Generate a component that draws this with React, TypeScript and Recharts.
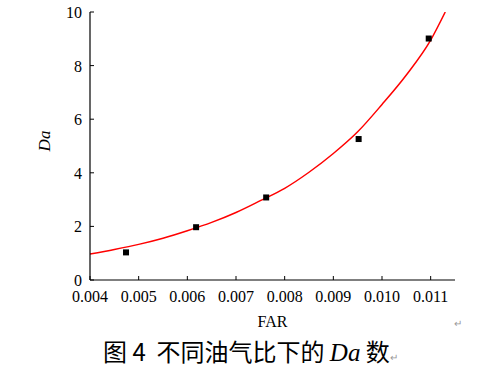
import { ComposedChart, Line, Scatter, XAxis, YAxis } from "recharts";

// measured points
const farPoints = [0.00474, 0.00618, 0.00762, 0.00952, 0.01096];
const daPoints = [1.03, 1.97, 3.08, 5.26, 9.01];

// fitted curve
const fitFar = [0.004, 0.0045, 0.005, 0.0055, 0.006, 0.0065, 0.007, 0.0075, 0.008, 0.0085, 0.009, 0.0095, 0.01, 0.0105, 0.011, 0.0113];
const fitDa = [0.97, 1.14, 1.33, 1.56, 1.84, 2.15, 2.52, 2.96, 3.42, 4.02, 4.72, 5.53, 6.55, 7.65, 8.95, 10.0];

const xTicks = [0.004, 0.005, 0.006, 0.007, 0.008, 0.009, 0.01, 0.011];
const yTicks = [0, 2, 4, 6, 8, 10];

const serif = "'Times New Roman', 'Liberation Serif', serif";

const XTick = (props: any) => {
  const { x, y, payload } = props;
  return (
    <text x={x} y={y + 22} textAnchor="middle" style={{ fontFamily: serif, fontSize: 16 }} fill="#000">
      {Number(payload.value).toFixed(3)}
    </text>
  );
};

const YTick = (props: any) => {
  const { x, y, payload } = props;
  return (
    <text x={x - 8} y={y + 6} textAnchor="end" style={{ fontFamily: serif, fontSize: 16 }} fill="#000">
      {payload.value}
    </text>
  );
};

const SquareDot = (props: any) => {
  const { cx, cy } = props;
  return <rect x={cx - 3} y={cy - 3} width={6} height={6} fill="#000" />;
};

export default function App() {
  const pts = farPoints.map((far, i) => ({ far, da: daPoints[i] }));
  const fit = fitFar.map((far, i) => ({ far, da: fitDa[i] }));

  return (
    <div style={{ position: "absolute", left: 0, top: 0, width: 492, height: 379, background: "#fff", fontFamily: serif }}>
      <ComposedChart
        width={492}
        height={379}
        margin={{ top: 12, right: 37, bottom: 69, left: 30 }}
      >
        <XAxis
          xAxisId="b"
          dataKey="far"
          type="number"
          domain={[0.004, 0.0115]}
          ticks={xTicks}
          tick={<XTick />}
          tickSize={-4}
          tickMargin={4}
          axisLine={{ stroke: "#000", strokeWidth: 1.2 }}
          tickLine={{ stroke: "#000" }}
          height={30}
          allowDataOverflow
        />
        <XAxis
          xAxisId="t"
          orientation="top"
          type="number"
          domain={[0.004, 0.0115]}
          tick={false}
          tickLine={false}
          axisLine={{ stroke: "#000", strokeWidth: 1.2 }}
          height={0}
        />
        <YAxis
          yAxisId="l"
          type="number"
          domain={[0, 10]}
          ticks={yTicks}
          tick={<YTick />}
          tickSize={-4}
          tickMargin={4}
          axisLine={{ stroke: "#000", strokeWidth: 1.2 }}
          tickLine={{ stroke: "#000" }}
          width={60}
          allowDataOverflow
        />
        <YAxis
          yAxisId="r"
          orientation="right"
          type="number"
          domain={[0, 10]}
          tick={false}
          tickLine={false}
          axisLine={{ stroke: "#000", strokeWidth: 1.2 }}
          width={0}
        />
        <Line
          xAxisId="b"
          yAxisId="l"
          data={fit}
          dataKey="da"
          type="monotone"
          stroke="#ff0000"
          strokeWidth={1.5}
          dot={false}
          activeDot={false}
          isAnimationActive={false}
        />
        <Scatter
          xAxisId="b"
          yAxisId="l"
          data={pts}
          dataKey="da"
          shape={SquareDot}
          isAnimationActive={false}
        />
      </ComposedChart>
      <div
        style={{
          position: "absolute",
          left: 45,
          top: 141,
          transform: "translate(-50%, -50%) rotate(-90deg)",
          fontStyle: "italic",
          fontSize: 17,
        }}
      >
        Da
      </div>
      <div style={{ position: "absolute", left: 0, width: 545, top: 313, textAlign: "center", fontSize: 16 }}>
        FAR
      </div>
      <div style={{ position: "absolute", left: 454, top: 318, fontSize: 10, color: "#999" }}>↵</div>
      <div
        style={{
          position: "absolute",
          left: 103,
          top: 333,
          fontSize: 24,
          whiteSpace: "nowrap",
          fontFamily: "'Noto Sans CJK SC', sans-serif",
        }}
      >
        图 4&nbsp;&nbsp;不同油气比下的 <span style={{ fontFamily: serif, fontStyle: "italic", fontSize: 25 }}>Da</span> 数
        <span style={{ fontSize: 10, color: "#999", fontFamily: serif }}>↵</span>
      </div>
    </div>
  );
}
